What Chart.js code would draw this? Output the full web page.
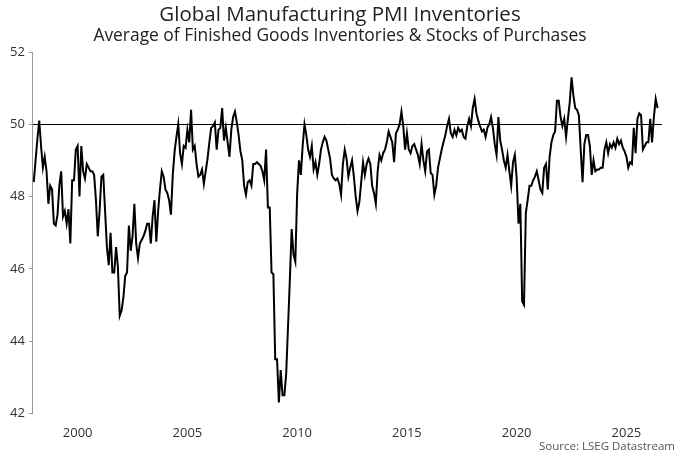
<!DOCTYPE html>
<html>
<head>
<meta charset="utf-8">
<script src="https://cdn.jsdelivr.net/npm/chart.js@4.4.1/dist/chart.umd.min.js"></script>
<style>
  body { margin: 0; background: #fff; }
  #wrap { position: relative; width: 680px; height: 454px; font-family: "Open Sans", "Noto Sans", sans-serif; color: #222; }
  .head { position: absolute; left: 0; width: 680px; text-align: center; white-space: nowrap; }
  #title { top: 1px; font-size: 20.5px; line-height: 24px; }
  #subtitle { top: 24px; font-size: 17.4px; line-height: 20px; }
  #source { position: absolute; right: 5px; top: 438px; font-size: 11.5px; color: #555; }
</style>
</head>
<body>
<div id="wrap">
  <canvas id="pmichart" width="680" height="454"></canvas>
  <div id="title" class="head">Global Manufacturing PMI Inventories</div>
  <div id="subtitle" class="head">Average of Finished Goods Inventories &amp; Stocks of Purchases</div>
  <div id="source">Source: LSEG Datastream</div>
</div>
<script>
// global manufacturing PMI inventories, monthly from Jan 1998
var startYear = 1998;
var inventoryPmi = [
    48.4, 49.0, 49.6, 50.1, 49.4, 48.8, 49.1, 48.7, 47.8, 48.3, 48.2, 47.25,   // 1998
    47.2, 47.5, 48.3, 48.7, 47.45, 47.6, 47.25, 47.65, 46.7, 48.45, 48.45, 49.3, // 1999
    49.4, 48.0, 49.4, 48.7, 48.5, 48.9, 48.8, 48.7, 48.7, 48.6, 47.9, 46.9,    // 2000
    47.6, 48.55, 48.6, 47.6, 46.6, 46.1, 47.0, 45.9, 45.9, 46.6, 46.05, 44.7,  // 2001
    44.85, 45.2, 45.8, 45.9, 47.2, 46.5, 46.9, 47.8, 46.7, 46.3, 46.7, 46.8,   // 2002
    46.9, 47.05, 47.25, 47.25, 46.7, 47.45, 47.9, 46.75, 47.6, 48.2, 48.7, 48.55, // 2003
    48.2, 48.1, 47.9, 47.5, 48.6, 49.25, 49.65, 50.0, 49.2, 48.9, 49.4, 49.35, // 2004
    49.85, 49.5, 50.4, 49.3, 49.4, 48.9, 48.55, 48.6, 48.75, 48.35, 48.7, 49.05, // 2005
    49.5, 49.9, 49.95, 50.05, 49.3, 49.85, 49.9, 50.45, 49.55, 49.9, 49.5, 49.1, // 2006
    49.85, 50.2, 50.35, 50.05, 49.7, 49.25, 49.0, 48.3, 48.05, 48.4, 48.45, 48.3, // 2007
    48.9, 48.9, 48.95, 48.9, 48.85, 48.7, 48.45, 49.3, 47.7, 47.7, 45.9, 45.85, // 2008
    43.5, 43.5, 42.3, 43.2, 42.5, 42.5, 43.1, 44.4, 45.7, 47.1, 46.4, 46.2,    // 2009
    48.1, 49.0, 48.6, 49.4, 50.0, 49.7, 49.3, 49.1, 49.4, 48.75, 48.95, 48.6,  // 2010
    48.9, 49.3, 49.5, 49.65, 49.55, 49.3, 49.05, 48.6, 48.5, 48.45, 48.5, 48.35, // 2011
    48.05, 48.9, 49.3, 49.05, 48.55, 48.8, 49.0, 48.55, 48.0, 47.6, 47.85, 48.4, // 2012
    48.95, 48.6, 48.9, 49.05, 48.9, 48.3, 48.1, 47.8, 48.7, 49.15, 49.0, 49.2, // 2013
    49.3, 49.5, 49.8, 49.65, 49.5, 48.95, 49.75, 49.85, 50.0, 50.35, 49.95, 49.3, // 2014
    49.75, 49.3, 49.2, 49.4, 49.45, 49.3, 49.15, 48.9, 49.45, 49.0, 48.7, 49.25, // 2015
    49.3, 48.65, 48.6, 48.05, 48.3, 48.8, 49.05, 49.3, 49.5, 49.7, 49.95, 50.15, // 2016
    49.75, 49.65, 49.85, 49.7, 49.9, 49.8, 49.85, 49.65, 49.6, 49.95, 50.15, 49.95, // 2017
    50.45, 50.7, 50.3, 50.1, 49.95, 49.8, 49.85, 49.65, 49.9, 50.0, 50.2, 49.9, // 2018
    49.45, 49.15, 50.2, 49.55, 49.3, 49.0, 48.8, 49.15, 48.7, 48.3, 48.95, 49.15, // 2019
    48.5, 47.25, 47.8, 45.1, 45.0, 47.55, 47.9, 48.3, 48.3, 48.45, 48.55, 48.7, // 2020
    48.45, 48.2, 48.1, 48.8, 48.9, 48.2, 49.1, 49.5, 49.7, 49.8, 50.65, 50.65, // 2021
    50.2, 49.95, 50.15, 49.65, 50.15, 50.6, 51.3, 50.8, 50.45, 50.4, 50.25, 49.3, // 2022
    48.4, 49.45, 49.7, 49.7, 49.4, 48.6, 49.0, 48.7, 48.75, 48.75, 48.8, 48.8, // 2023
    49.3, 49.5, 49.2, 49.45, 49.35, 49.5, 49.35, 49.6, 49.45, 49.55, 49.35, 49.25, // 2024
    49.1, 48.8, 48.95, 48.9, 49.9, 49.2, 50.15, 50.3, 50.25, 49.3, 49.4, 49.5, // 2025
    49.5, 50.15, 49.5, 50.2, 50.7, 50.45                                        // 2026
];
var yearTicks = [2000, 2005, 2010, 2015, 2020, 2025];
var valueTicks = [42, 44, 46, 48, 50, 52];
var referenceLevel = 50;

var points = inventoryPmi.map(function(v, i) {
    return { x: startYear + i / 12, y: v };
});

var ctx = document.getElementById("pmichart").getContext("2d");
var fontFamily = "'Open Sans', 'Noto Sans', sans-serif";

var config = {
    type: "line",
    data: {
        datasets: [
            {
                label: "Inventories",
                data: points,
                borderColor: "#000",
                borderWidth: 2,
                pointRadius: 0,
                tension: 0,
            },
        ],
    },
    options: {
        responsive: false,
        animation: false,
        layout: {
            padding: { left: 6, right: 18, top: 52, bottom: 9 }
        },
        scales: {
            x: {
                type: "linear",
                min: 1997.96,
                max: 2026.62,
                afterBuildTicks: function(scale) {
                    scale.ticks = yearTicks.map(function(v) { return { value: v }; });
                },
                ticks: {
                    callback: function(v) { return String(v); },
                    color: "#333",
                    font: { family: fontFamily, size: 13 },
                    maxRotation: 0,
                    padding: 4,
                },
                grid: { display: false },
                border: { display: false },
            },
            y: {
                min: 42,
                max: 52,
                afterBuildTicks: function(scale) {
                    scale.ticks = valueTicks.map(function(v) { return { value: v }; });
                },
                ticks: {
                    color: "#333",
                    font: { family: fontFamily, size: 13 },
                    padding: 4,
                },
                grid: {
                    color: function(c) { return c.tick && c.tick.value === referenceLevel ? "#000" : "rgba(0,0,0,0)"; },
                    tickColor: "#999",
                    tickLength: 4,
                    lineWidth: 1,
                },
                border: { display: true, color: "#999", width: 1 },
            }
        },
        plugins: {
            legend: { display: false },
            tooltip: { enabled: false },
        }
    }
};

var pmiChart = new Chart(ctx, config);
</script>
</body>
</html>
